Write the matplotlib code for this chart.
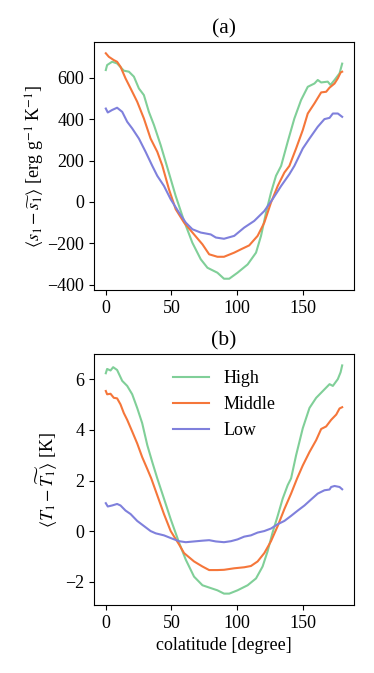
import numpy as np
import matplotlib
matplotlib.use('Agg')
import matplotlib.pyplot as plt

# panel (a): entropy perturbation
x_high_a = [0, 1, 4.8, 8.6, 13.7, 17.6, 21.4, 25.2, 29, 32.8, 36.7, 41.8, 46.4, 53.2, 59.6,
            65.9, 72.3, 77.4, 85, 90, 94, 100.3, 108, 114.4, 118.2, 122, 125.8, 129.6,
            133.5, 138.5, 143.6, 148.7, 153.8, 158.9, 161.4, 164, 169, 171.1, 174.2, 178, 180]
s_high = [637, 661, 677, 669, 634, 629, 605, 548, 516, 435, 371, 274, 176, 29, -92,
          -197, -277, -318, -342, -371, -371, -342, -302, -245, -164, -52, 45, 126,
          174, 290, 403, 492, 556, 572, 589, 577, 581, 565, 589, 621, 668]

x_mid_a = [0, 2.3, 6.1, 8.6, 11.2, 15, 18.9, 23.9, 29, 34.1, 39.2, 43, 48.1, 53.2, 59.6,
           67.2, 73.6, 78.7, 85, 90, 97.8, 102.9, 109.2, 115.6, 120.7, 125.8, 130.9,
           136, 139.8, 144.9, 150, 153.8, 158.9, 164, 167.8, 170.4, 174.2, 176.7, 178.8, 180]
s_mid = [718, 701, 685, 677, 653, 597, 548, 484, 403, 306, 242, 176, 61, -35, -100,
         -157, -205, -253, -265, -265, -245, -229, -210, -164, -100, -3, 77,
         142, 174, 258, 347, 427, 476, 529, 532, 552, 572, 597, 625, 629]

x_low_a = [0, 1.5, 4.8, 8.6, 12.5, 16.3, 20.1, 25.2, 30.3, 35.4, 39.2, 44.3, 49.4, 55.8,
           60.9, 65.9, 72.3, 79.9, 83.8, 90, 97.8, 105.4, 113, 120.7, 127, 133.5, 139.8,
           143.6, 150, 155.1, 161.4, 166.5, 170.4, 172.9, 176.7, 180]
s_low = [451, 432, 444, 455, 435, 387, 355, 306, 242, 174, 126, 77, 13, -52,
         -100, -132, -148, -157, -172, -178, -164, -124, -92, -44, 13, 77, 134,
         174, 258, 306, 363, 400, 406, 427, 427, 411]

# panel (b): temperature perturbation
x_high_b = [0, 1, 3.6, 5.6, 8.6, 12.5, 16.3, 20.1, 23.9, 27.7, 31.6, 35.4, 39.2, 44.3,
            49.4, 55.8, 60.9, 67.2, 73.6, 78.7, 85, 90, 94, 100.3, 108, 114.4, 119.4,
            123.2, 127, 130.9, 134.7, 138.5, 141.1, 144.9, 150, 155.1, 160.2, 165.3,
            170.4, 172.9, 176.7, 178.8, 180]
t_high = [6.24, 6.41, 6.35, 6.48, 6.37, 5.94, 5.74, 5.41, 4.87, 4.27, 3.40, 2.73, 2.09, 1.29,
          0.48, -0.45, -1.12, -1.79, -2.13, -2.22, -2.33, -2.46, -2.46, -2.33, -2.13, -1.86, -1.39,
          -0.79, -0.05, 0.61, 1.29, 1.82, 2.09, 3.0, 4.07, 4.87, 5.27, 5.54,
          5.81, 5.74, 6.01, 6.28, 6.55]

x_mid_b = [0, 1, 3.6, 6.1, 8.6, 11.2, 13.7, 16.3, 20.1, 23.9, 27.7, 31.6, 34.6, 39.2, 44.3,
           49.4, 55.8, 59.6, 67.2, 73.6, 78.7, 85, 90, 97.8, 105.4, 110.5, 115.6, 120.7,
           125.8, 130.9, 136, 141.1, 145.7, 150, 155.1, 160.2, 164, 167.8, 171.6, 175.5, 178, 180]
t_mid = [5.54, 5.41, 5.43, 5.27, 5.25, 5.01, 4.67, 4.40, 3.94, 3.47, 2.93, 2.46, 2.09, 1.42, 0.68,
         0.01, -0.52, -0.86, -1.19, -1.39, -1.53, -1.53, -1.52, -1.46, -1.42, -1.37, -1.19, -0.86,
         -0.39, 0.21, 0.88, 1.49, 2.09, 2.60, 3.13, 3.60, 4.04, 4.14, 4.40, 4.61, 4.85, 4.90]

x_low_b = [0, 1.5, 4.8, 8.6, 11.2, 15, 18.9, 23.9, 29, 34.1, 38, 44.3, 50.6, 55.8, 60.9,
           67.2, 73.6, 78.7, 83.8, 90, 95.3, 100.3, 105.4, 110.5, 115.6, 120.7, 125.8,
           130.9, 136, 141.1, 146.2, 151.3, 156.4, 161.4, 166.5, 170.4, 171.6, 174.2, 178, 180]
t_low = [1.11, 0.98, 1.02, 1.08, 1.02, 0.82, 0.68, 0.41, 0.21, 0.01, -0.08, -0.16, -0.29, -0.39, -0.43,
         -0.40, -0.37, -0.35, -0.40, -0.43, -0.39, -0.32, -0.21, -0.16, -0.05, 0.01, 0.11,
         0.28, 0.41, 0.61, 0.82, 1.02, 1.26, 1.49, 1.62, 1.65, 1.75, 1.79, 1.75, 1.66]

labels = ['High', 'Middle', 'Low']
colors = ['#80cf98', '#f5763a', '#7f80dc']

plt.rcParams['font.family'] = ['Liberation Serif', 'DejaVu Serif']
plt.rcParams['mathtext.fontset'] = 'stix'
plt.rcParams['font.size'] = 13


def main():
    fig = plt.figure(figsize=(3.74, 6.73), dpi=100)
    ax_a = fig.add_axes([0.2513, 0.5691, 0.6952, 0.3685])
    ax_b = fig.add_axes([0.2513, 0.1010, 0.6952, 0.3730])

    for xs, ys, c, lab in zip([x_high_a, x_mid_a, x_low_a], [s_high, s_mid, s_low], colors, labels):
        ax_a.plot(xs, ys, color=c, lw=1.5, label=lab)
    ax_a.set_title('(a)')
    ax_a.set_ylabel(r'$\langle s_1 - \widetilde{s_1} \rangle$ [erg g$^{-1}$ K$^{-1}$]', labelpad=0)
    ax_a.set_yticks([-400, -200, 0, 200, 400, 600])
    ax_a.set_xticks([0, 50, 100, 150])

    for xs, ys, c, lab in zip([x_high_b, x_mid_b, x_low_b], [t_high, t_mid, t_low], colors, labels):
        ax_b.plot(xs, ys, color=c, lw=1.5, label=lab)
    ax_b.set_title('(b)')
    ax_b.set_ylabel(r'$\langle T_1 - \widetilde{T_1} \rangle$ [K]')
    ax_b.set_xlabel('colatitude [degree]')
    ax_b.set_yticks([-2, 0, 2, 4, 6])
    ax_b.set_xticks([0, 50, 100, 150])
    ax_b.legend(loc='upper center', frameon=False)

    fig.savefig('out.png', dpi=100)


if __name__ == '__main__':
    main()
